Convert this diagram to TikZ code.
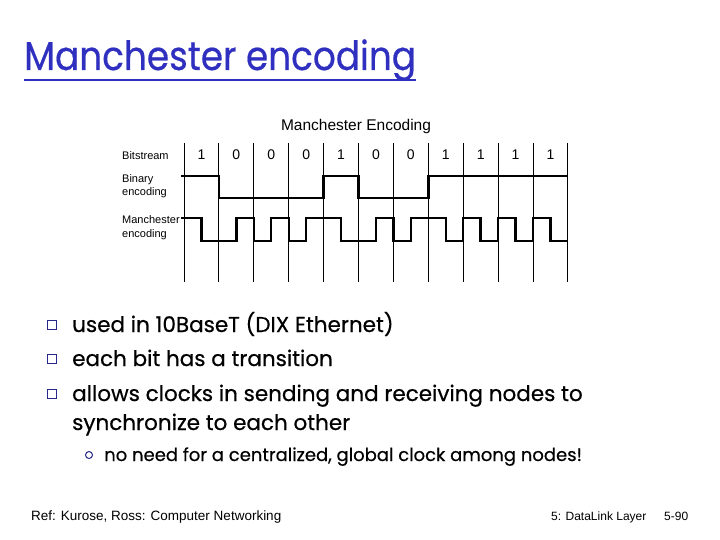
\documentclass[tikz,border=0pt]{standalone}
\usepackage{fontspec}
\newfontfamily\comic[FakeBold=0.5]{Poppins}
\newfontfamily\arialf{Liberation Sans}
\definecolor{titleblue}{RGB}{48,48,192}
\definecolor{bulletblue}{RGB}{40,40,140}
\begin{document}
\begin{tikzpicture}[x=1pt,y=-1pt,
  grid/.style={line width=0.9pt,black},
  sig/.style={line width=2.4pt,black,line join=miter,line cap=butt},
  lab/.style={font=\arialf\fontsize{11}{12}\selectfont,anchor=base west,inner sep=0pt},
  digit/.style={font=\arialf\fontsize{14}{14}\selectfont,anchor=base,inner sep=0pt},
  body/.style={font=\comic\fontsize{21.5}{24}\selectfont,anchor=base west,inner sep=0pt},
  subtext/.style={font=\comic\fontsize{18}{20}\selectfont,anchor=base west,inner sep=0pt},
  foot/.style={font=\arialf\fontsize{13.5}{15}\selectfont,anchor=base west,inner sep=0pt},
  footr/.style={font=\arialf\fontsize{12}{14}\selectfont,anchor=base west,inner sep=0pt},
  sqbullet/.style={draw=bulletblue,line width=1.3pt,minimum size=9.5pt,inner sep=0pt},
  circbullet/.style={circle,draw=bulletblue,line width=1pt,minimum size=7pt,inner sep=0pt}]
\useasboundingbox[fill=white] (0,0) rectangle (720,540);

% title
\node[font=\comic\fontsize{38}{40}\selectfont,text=titleblue,anchor=base west,inner sep=0pt] (title) at (24,70) {\scalebox{0.943}[1.06]{Manchester encoding}};
\draw[titleblue,line width=2pt] ([yshift=-10.5pt]title.base west) -- ([yshift=-10.5pt]title.base east);

% diagram title
\node[font=\arialf\fontsize{15.5}{16}\selectfont,anchor=base,inner sep=0pt] (mtitle) at (356,131) {Manchester Encoding};

% grid
\foreach \i in {0,...,11}
  \draw[grid] ({184+34.9*\i},143) -- ({184+34.9*\i},282);

% bits
\foreach \b [count=\i from 0] in {1,0,0,0,1,0,0,1,1,1,1}
  \node[digit] (d\i) at ({184+34.9*\i+17.45},160) {\b};

% labels
\node[lab] (lbit) at (122,160) {Bitstream};
\node[lab] (lbin1) at (122,183) {Binary};
\node[lab] (lbin2) at (122,196) {encoding};
\node[lab] (lman1) at (122,224) {Manchester};
\node[lab] (lman2) at (122,237) {encoding};

% signals
\begin{scope}[shift={(184,0)},x=17.45pt]
\draw[sig] (-0.15,176)--(2,176)--(2,198)--(8,198)--(8,176)--(10,176)--(10,198)--(14,198)--(14,176)--(22,176);
\draw[sig] (-0.15,218)--(1,218)--(1,241)--(3,241)--(3,218)--(4,218)--(4,241)--(5,241)--(5,218)--(6,218)--(6,241)--(7,241)--(7,218)--(9,218)--(9,241)--(11,241)--(11,218)--(12,218)--(12,241)--(13,241)--(13,218)--(15,218)--(15,241)--(16,241)--(16,218)--(17,218)--(17,241)--(18,241)--(18,218)--(19,218)--(19,241)--(20,241)--(20,218)--(21,218)--(21,241)--(22,241);
\end{scope}

% bullets
\node[sqbullet] (b1) at (52,325) {};
\node[body] (t1) at (72,332) {used in 10BaseT (DIX Ethernet)};
\node[sqbullet] (b2) at (52,359) {};
\node[body] (t2) at (72,366) {each bit has a transition};
\node[sqbullet] (b3) at (52,394) {};
\node[body] (t3) at (72,401) {allows clocks in sending and receiving nodes to};
\node[body] (t4) at (72,430) {synchronize to each other};
\node[circbullet] (c1) at (89,455) {};
\node[subtext] (t5) at (104,461) {no need for a centralized, global clock among nodes!};

% footer
\node[foot] (f1) at (31,520) {Ref: Kurose, Ross: Computer Networking};
\node[footr] (f2) at (551,520) {5: DataLink Layer};
\node[footr] (f3) at (664,520) {5-90};
\end{tikzpicture}
\end{document}
